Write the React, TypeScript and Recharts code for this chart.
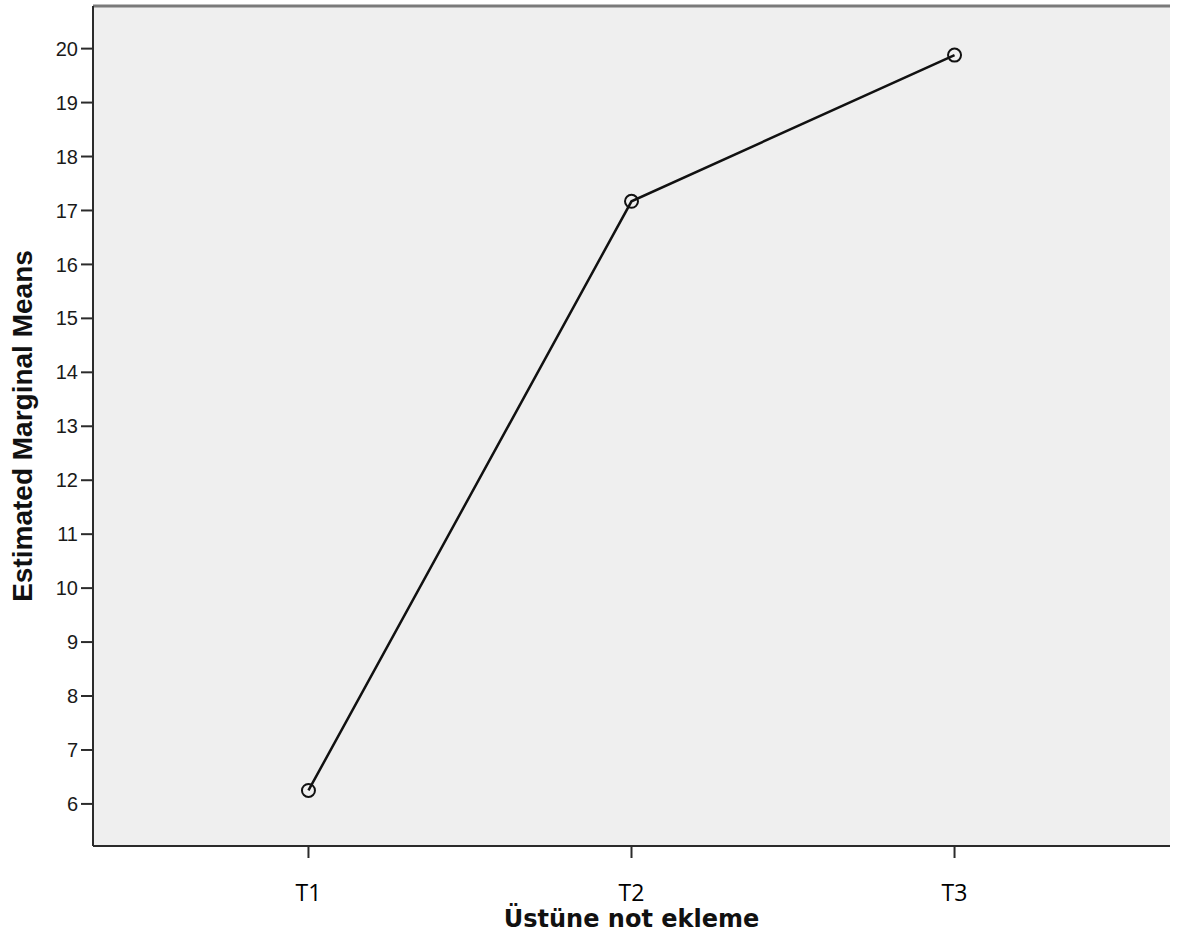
import React from "react";
import {
  LineChart,
  Line,
  XAxis,
  YAxis,
  CartesianGrid,
} from "recharts";

const categories = ["T1", "T2", "T3"];
const positions = [1, 2, 3];
const means = [6.25, 17.17, 19.88];
const yTicks = [6, 7, 8, 9, 10, 11, 12, 13, 14, 15, 16, 17, 18, 19, 20];

const chartData = positions.map((p, i) => ({
  pos: p,
  label: categories[i],
  mean: means[i],
}));

const AXIS_COLOR = "#2b2b2b";

function XTick(props: any) {
  const { x, y, payload } = props;
  return (
    <text
      x={x}
      y={y + 41}
      textAnchor="middle"
      fontFamily="'Open Sans', sans-serif"
      fontSize={23}
      fill="#000"
    >
      {categories[positions.indexOf(payload.value)]}
    </text>
  );
}

function XTitle(props: any) {
  const { viewBox } = props;
  const cx = viewBox.x + viewBox.width / 2;
  return (
    <text
      x={cx}
      y={927}
      textAnchor="middle"
      fontFamily="'DejaVu Sans', sans-serif"
      fontWeight="bold"
      fontSize={24}
      fill="#111"
    >
      Üstüne not ekleme
    </text>
  );
}

function YTitle(props: any) {
  const { viewBox } = props;
  const cy = viewBox.y + viewBox.height / 2;
  return (
    <text
      x={32}
      y={cy}
      transform={`rotate(-90, 32, ${cy})`}
      textAnchor="middle"
      fontFamily="'Liberation Sans', Arial, sans-serif"
      fontWeight="bold"
      fontSize={28}
      fill="#111"
    >
      Estimated Marginal Means
    </text>
  );
}

export default function App() {
  return (
    <div style={{ position: "absolute", left: 0, top: 0, background: "#fff" }}>
      <LineChart
        width={1180}
        height={937}
        data={chartData}
        margin={{ top: 2, right: 10, left: 0, bottom: 0 }}
      >
        <CartesianGrid
          horizontal={false}
          vertical={false}
          fill="#efefef"
          fillOpacity={1}
        />
        <XAxis
          dataKey="pos"
          type="number"
          domain={[0.333, 3.667]}
          ticks={positions}
          allowDataOverflow
          height={91}
          tickSize={12}
          axisLine={{ stroke: AXIS_COLOR, strokeWidth: 2 }}
          tickLine={{ stroke: AXIS_COLOR, strokeWidth: 2 }}
          tick={<XTick />}
          label={<XTitle />}
        />
        <XAxis
          xAxisId="top"
          orientation="top"
          dataKey="pos"
          type="number"
          domain={[0.333, 3.667]}
          ticks={positions}
          height={4}
          tick={false}
          tickLine={false}
          axisLine={{ stroke: "#7a7a7a", strokeWidth: 3 }}
        />
        <YAxis
          type="number"
          domain={[5.22, 20.79]}
          ticks={yTicks}
          allowDataOverflow
          width={93}
          tickSize={12}
          tickMargin={3}
          interval={0}
          axisLine={{ stroke: AXIS_COLOR, strokeWidth: 2 }}
          tickLine={{ stroke: AXIS_COLOR, strokeWidth: 2 }}
          tick={{
            fontSize: 20,
            fill: "#1a1a1a",
            fontFamily: "'Liberation Sans', Arial, sans-serif",
          }}
          label={<YTitle />}
        />
        <YAxis
          yAxisId="right"
          orientation="right"
          type="number"
          domain={[5.22, 20.79]}
          width={0}
          tick={false}
          tickLine={false}
          axisLine={{ stroke: "#444", strokeWidth: 2.5 }}
        />
        <Line
          dataKey="mean"
          type="linear"
          stroke="#111"
          strokeWidth={2.5}
          dot={{ r: 6.5, stroke: "#111", strokeWidth: 2, fill: "none" }}
          activeDot={false}
          isAnimationActive={false}
        />
      </LineChart>
    </div>
  );
}
